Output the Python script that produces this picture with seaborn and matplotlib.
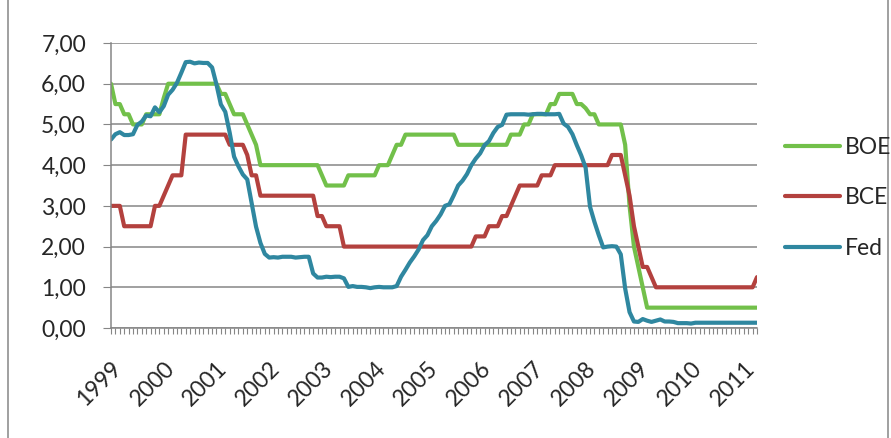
import numpy as np
import pandas as pd
import matplotlib
matplotlib.use('Agg')
import matplotlib.pyplot as plt
from matplotlib.ticker import FuncFormatter, MultipleLocator
from matplotlib.lines import Line2D
import seaborn as sns

# Taxas de juro mensais, jan/1999 a abr/2011
anos = [str(a) for a in range(1999, 2012)]

boe = [6.0, 5.5, 5.5, 5.25, 5.25, 5.0, 5.0, 5.0, 5.25, 5.25, 5.25, 5.25,
       5.65, 6.0, 6.0, 6.0, 6.0, 6.0, 6.0, 6.0, 6.0, 6.0, 6.0, 6.0,
       6.0, 5.75, 5.75, 5.5, 5.25, 5.25, 5.25, 5.0, 4.75, 4.5, 4.0, 4.0,
       4.0, 4.0, 4.0, 4.0, 4.0, 4.0, 4.0, 4.0, 4.0, 4.0, 4.0, 4.0,
       3.75, 3.5, 3.5, 3.5, 3.5, 3.5, 3.75, 3.75, 3.75, 3.75, 3.75, 3.75,
       3.75, 4.0, 4.0, 4.0, 4.25, 4.5, 4.5, 4.75, 4.75, 4.75, 4.75, 4.75,
       4.75, 4.75, 4.75, 4.75, 4.75, 4.75, 4.75, 4.5, 4.5, 4.5, 4.5, 4.5,
       4.5, 4.5, 4.5, 4.5, 4.5, 4.5, 4.5, 4.75, 4.75, 4.75, 5.0, 5.0,
       5.25, 5.25, 5.25, 5.25, 5.5, 5.5, 5.75, 5.75, 5.75, 5.75, 5.5, 5.5,
       5.4, 5.25, 5.25, 5.0, 5.0, 5.0, 5.0, 5.0, 5.0, 4.5, 3.0, 2.0,
       1.5, 1.0, 0.5, 0.5, 0.5, 0.5, 0.5, 0.5, 0.5, 0.5, 0.5, 0.5,
       0.5, 0.5, 0.5, 0.5, 0.5, 0.5, 0.5, 0.5, 0.5, 0.5, 0.5, 0.5,
       0.5, 0.5, 0.5, 0.5]

bce = [3.0, 3.0, 3.0, 2.5, 2.5, 2.5, 2.5, 2.5, 2.5, 2.5, 3.0, 3.0,
       3.25, 3.5, 3.75, 3.75, 3.75, 4.75, 4.75, 4.75, 4.75, 4.75, 4.75, 4.75,
       4.75, 4.75, 4.75, 4.5, 4.5, 4.5, 4.5, 4.25, 3.75, 3.75, 3.25, 3.25,
       3.25, 3.25, 3.25, 3.25, 3.25, 3.25, 3.25, 3.25, 3.25, 3.25, 3.25, 2.75,
       2.75, 2.5, 2.5, 2.5, 2.5, 2.0, 2.0, 2.0, 2.0, 2.0, 2.0, 2.0,
       2.0, 2.0, 2.0, 2.0, 2.0, 2.0, 2.0, 2.0, 2.0, 2.0, 2.0, 2.0,
       2.0, 2.0, 2.0, 2.0, 2.0, 2.0, 2.0, 2.0, 2.0, 2.0, 2.0, 2.25,
       2.25, 2.25, 2.5, 2.5, 2.5, 2.75, 2.75, 3.0, 3.25, 3.5, 3.5, 3.5,
       3.5, 3.5, 3.75, 3.75, 3.75, 4.0, 4.0, 4.0, 4.0, 4.0, 4.0, 4.0,
       4.0, 4.0, 4.0, 4.0, 4.0, 4.0, 4.25, 4.25, 4.25, 3.75, 3.25, 2.5,
       2.0, 1.5, 1.5, 1.25, 1.0, 1.0, 1.0, 1.0, 1.0, 1.0, 1.0, 1.0,
       1.0, 1.0, 1.0, 1.0, 1.0, 1.0, 1.0, 1.0, 1.0, 1.0, 1.0, 1.0,
       1.0, 1.0, 1.0, 1.25]

fed = [4.63, 4.76, 4.81, 4.74, 4.74, 4.76, 4.99, 5.07, 5.22, 5.20, 5.42, 5.30,
       5.45, 5.73, 5.85, 6.02, 6.27, 6.53, 6.54, 6.50, 6.52, 6.51, 6.51, 6.40,
       5.98, 5.49, 5.31, 4.80, 4.21, 3.97, 3.77, 3.65, 3.07, 2.49, 2.09, 1.82,
       1.73, 1.74, 1.73, 1.75, 1.75, 1.75, 1.73, 1.74, 1.75, 1.75, 1.34, 1.24,
       1.24, 1.26, 1.25, 1.26, 1.26, 1.22, 1.01, 1.03, 1.01, 1.01, 1.00, 0.98,
       1.00, 1.01, 1.00, 1.00, 1.00, 1.03, 1.26, 1.43, 1.61, 1.76, 1.93, 2.16,
       2.28, 2.50, 2.63, 2.79, 3.00, 3.04, 3.26, 3.50, 3.62, 3.78, 4.00, 4.16,
       4.29, 4.49, 4.59, 4.79, 4.94, 4.99, 5.24, 5.25, 5.25, 5.25, 5.25, 5.24,
       5.25, 5.26, 5.26, 5.25, 5.25, 5.25, 5.26, 5.02, 4.94, 4.76, 4.49, 4.24,
       3.94, 2.98, 2.61, 2.28, 1.98, 2.00, 2.01, 2.00, 1.81, 0.97, 0.39, 0.16,
       0.15, 0.22, 0.18, 0.15, 0.18, 0.21, 0.16, 0.16, 0.15, 0.12, 0.12, 0.12,
       0.11, 0.13, 0.13, 0.13, 0.13, 0.13, 0.13, 0.13, 0.13, 0.13, 0.13, 0.13,
       0.13, 0.13, 0.13, 0.13]

series = ['BOE', 'BCE', 'Fed']
cores = ['#72C04A', '#B3413E', '#2F87A0']

meses = np.arange(len(boe))
df = pd.DataFrame({
    'mes': np.tile(meses, 3),
    'taxa': boe + bce + fed,
    'banco': np.repeat(series, len(boe)),
})

sns.set_style('white')
plt.rcParams['font.family'] = ['Lato', 'DejaVu Sans']
cinza = '#868686'
tam = 16.5

fig = plt.figure(figsize=(8.91, 4.38), dpi=100)
ax = fig.add_axes([0.1246, 0.2511, 0.7250, 0.6507])

sns.lineplot(data=df, x='mes', y='taxa', hue='banco', hue_order=series,
             palette=cores, linewidth=3, ax=ax, legend=False)

ax.set_xlim(0, len(boe) - 1)
ax.set_ylim(0, 7)
ax.yaxis.set_major_locator(MultipleLocator(1))
ax.yaxis.set_major_formatter(FuncFormatter(lambda v, p: f'{v:.2f}'.replace('.', ',')))
ax.grid(axis='y', color=cinza, linewidth=1.1)
ax.set_axisbelow(True)

ax.set_xticks(np.arange(0, len(boe), 12))
ax.set_xticklabels(anos, rotation=45, ha='right', va='top', rotation_mode='anchor')
ax.set_xticks(meses, minor=True)
ax.tick_params(axis='x', which='both', direction='out', length=4.5, width=0.8,
               color=cinza, labelsize=tam, pad=17, bottom=True)
ax.tick_params(axis='y', direction='out', length=6, width=0.8, color=cinza,
               labelsize=tam, pad=12, left=True)

for lado in ['top', 'right']:
    ax.spines[lado].set_visible(False)
for lado in ['left', 'bottom']:
    ax.spines[lado].set_color(cinza)
    ax.spines[lado].set_linewidth(1.1)

ax.set_xlabel('')
ax.set_ylabel('')

# Legenda
handles = [Line2D([0], [0], color=c, linewidth=3, solid_capstyle='round') for c in cores]
fig.legend(handles, series, loc='center left', bbox_to_anchor=(0.881, 0.5486),
           frameon=False, fontsize=tam, handlelength=2.4, handletextpad=0.2,
           labelspacing=1.28, borderpad=0, borderaxespad=0)

# Moldura do gráfico
fig.add_artist(Line2D([8 / 891, 8 / 891], [0, 1], color=cinza, linewidth=1.1))
fig.add_artist(Line2D([888 / 891, 888 / 891], [0, 1], color=cinza, linewidth=1.1))

plt.savefig('out.png', dpi=100)
